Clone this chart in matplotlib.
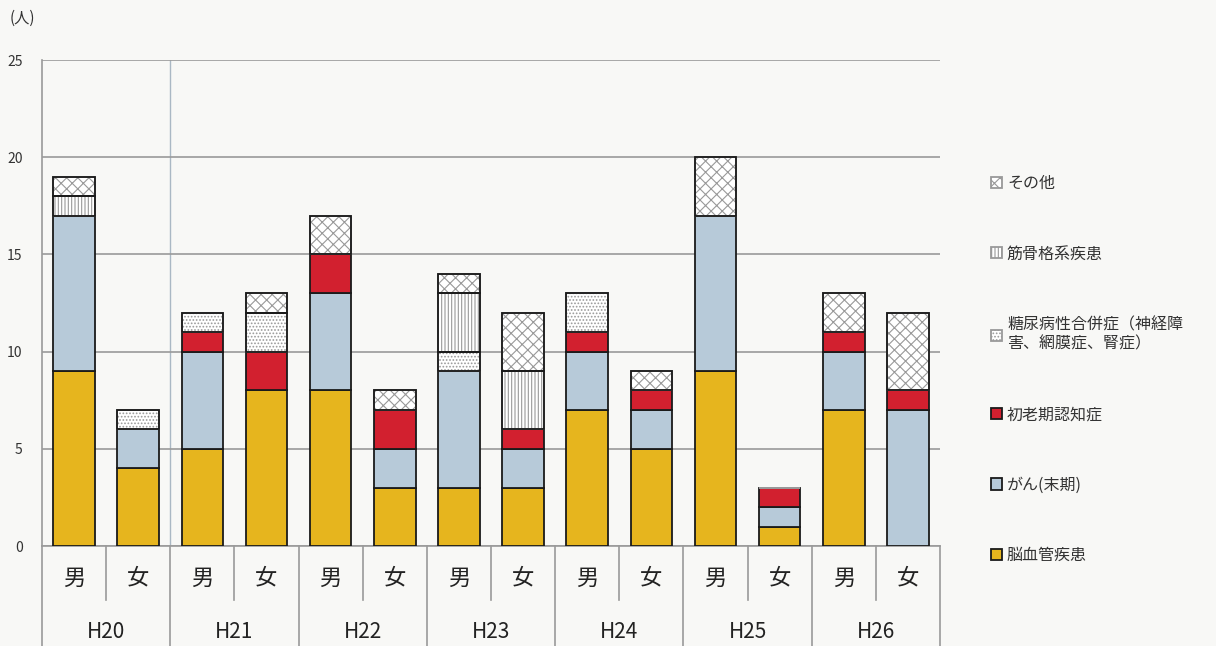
import matplotlib
matplotlib.use("Agg")
import matplotlib.pyplot as plt
import matplotlib.transforms as mtransforms
import numpy as np

plt.rcParams['font.family'] = ['Noto Sans CJK JP', 'DejaVu Sans']
plt.rcParams['hatch.linewidth'] = 0.8

years = ['H20', 'H21', 'H22', 'H23', 'H24', 'H25', 'H26']
sexes = ['男', '女']

# 14 bars: H20男, H20女, H21男, ...
nouketsukan = [9, 4, 5, 8, 8, 3, 3, 3, 7, 5, 9, 1, 7, 0]
gan = [8, 2, 5, 0, 5, 2, 6, 2, 3, 2, 8, 1, 3, 7]
shorouki = [0, 0, 1, 2, 2, 2, 0, 1, 1, 1, 0, 1, 1, 1]
tounyou = [0, 1, 1, 2, 0, 0, 1, 0, 2, 0, 0, 0, 0, 0]
kinkokkaku = [1, 0, 0, 0, 0, 0, 3, 3, 0, 0, 0, 0, 0, 0]
sonota = [1, 0, 0, 1, 2, 1, 1, 3, 0, 1, 3, 0, 2, 4]

labels = ['脳血管疾患', 'がん(末期)', '初老期認知症',
          '糖尿病性合併症（神経障\n害、網膜症、腎症）', '筋骨格系疾患', 'その他']
series = [nouketsukan, gan, shorouki, tounyou, kinkokkaku, sonota]
colors = ['#E6B51E', '#B7CAD9', '#D2202F', '#FFFFFF', '#FFFFFF', '#FFFFFF']
hatches = [None, None, None, '.....', '|||||', 'xxx']

bg = '#F8F8F6'
fig = plt.figure(figsize=(12.16, 6.46), dpi=100)
fig.patch.set_facecolor(bg)
ax = fig.add_axes([42/1216, 100/646, 898/1216, 486/646])
ax.set_facecolor(bg)

x = np.arange(len(nouketsukan))
bottom = np.zeros(len(x))
handles = []
for vals, lab, col, h in zip(series, labels, colors, hatches):
    vals = np.array(vals, dtype=float)
    bc = ax.bar(x, vals, 0.65, bottom=bottom, color=col, edgecolor='#1a1a1a',
                linewidth=1.3, label=lab, zorder=3)
    if h:
        for p in bc:
            p.set_hatch(h)
            p.set_edgecolor('#999999')
        # outline again in dark
        m = vals > 0
        ax.bar(x[m], vals[m], 0.65, bottom=bottom[m],
               fill=False, edgecolor='#1a1a1a', linewidth=1.3, zorder=4)
    handles.append(bc)
    bottom += vals

ax.set_xlim(-0.5, len(x) - 0.5)
ax.set_ylim(0, 25)
ax.set_yticks([0, 5, 10, 15, 20, 25])
ax.yaxis.grid(True, color='#9a9a9a', linewidth=1.2, zorder=0)
ax.axvline(1.5, color='#aab8c4', linewidth=1.0, zorder=1)
ax.tick_params(axis='y', length=0, pad=14, labelsize=10, labelcolor='#333333')
ax.set_xticks([])
for s in ['top', 'right', 'bottom']:
    ax.spines[s].set_visible(False)
ax.spines['left'].set_color('#9a9a9a')
ax.spines['left'].set_linewidth(1.2)

# category axis below the plot
trans = mtransforms.blended_transform_factory(ax.transData, ax.transAxes)
ax.plot([-0.5, len(x) - 0.5], [0, 0], color='#9a9a9a', lw=1.2,
        transform=trans, clip_on=False)
for i in range(len(years) + 1):
    xb = 2 * i - 0.5
    ax.plot([xb, xb], [0, -0.21], color='#9a9a9a', lw=1.2,
            transform=trans, clip_on=False)
for i, yr in enumerate(years):
    ax.plot([2 * i + 0.5, 2 * i + 0.5], [0, -0.111], color='#9a9a9a',
            lw=1.2, transform=trans, clip_on=False)
    ax.text(2 * i + 0.5, -0.177, yr, transform=trans, ha='center',
            va='center', fontsize=15, color='#222222')
    for j, sx in enumerate(sexes):
        ax.text(2 * i + j, -0.066, sx, transform=trans, ha='center',
                va='center', fontsize=16, color='#222222')

fig.text(10/1216, 1 - 18/646, '(人)', fontsize=11, va='center',
         color='#333333')

leg = fig.legend(handles[::-1], labels[::-1], loc='upper left',
                 bbox_to_anchor=(983/1216, 1 - 167/646), frameon=False,
                 fontsize=11.5, labelspacing=3.35, handlelength=0.7,
                 handleheight=0.7, handletextpad=0.3, borderpad=0)
for t in leg.get_texts():
    t.set_color('#333333')

fig.savefig('out.png', dpi=100, facecolor=fig.get_facecolor())
